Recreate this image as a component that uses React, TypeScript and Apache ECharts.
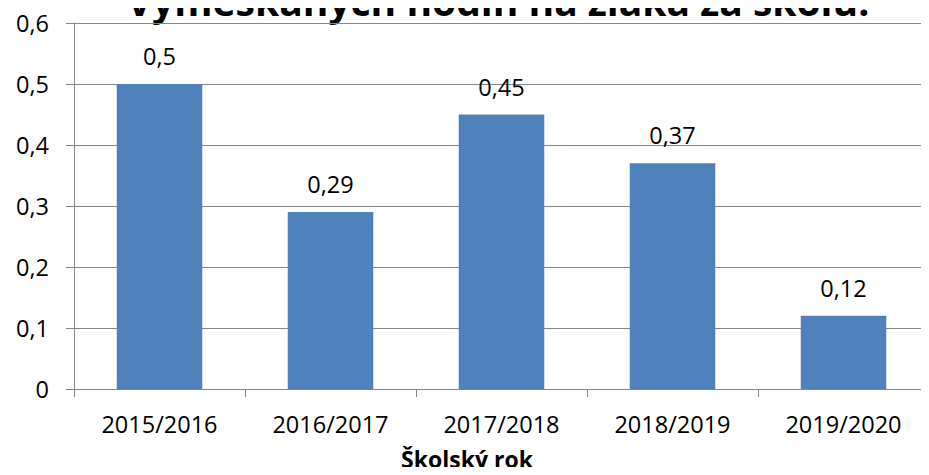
import React, { useEffect, useRef } from "react";
import * as echarts from "echarts";

const categories = ["2015/2016", "2016/2017", "2017/2018", "2018/2019", "2019/2020"];
const values = [0.5, 0.29, 0.45, 0.37, 0.12];
const titleText = "Vymeškaných hodín na žiaka za školu.";
const xAxisName = "Školský rok";

const fmt = (v: number) => String(v).replace(".", ",");

export default function App() {
  const ref = useRef<HTMLDivElement>(null);
  useEffect(() => {
    if (!ref.current) return;
    const chart = echarts.init(ref.current, null, { renderer: "svg" });
    const font = "'Open Sans', sans-serif";
    chart.setOption({
      animation: false,
      backgroundColor: "#ffffff",
      textStyle: { fontFamily: font },
      grid: { left: 74, right: -10, top: 23, bottom: 86, containLabel: false },
      graphic: [
        {
          type: "text",
          x: 498,
          y: 20,
          style: {
            text: titleText,
            font: `bold 39px ${font}`,
            fill: "#000",
            align: "center",
            verticalAlign: "bottom",
          },
        },
        {
          type: "text",
          x: 467,
          y: 459,
          style: {
            text: xAxisName,
            font: `bold 23px ${font}`,
            lineHeight: 23,
            fill: "#000",
            align: "center",
            verticalAlign: "middle",
          },
        },
      ],
      xAxis: {
        type: "category",
        data: categories,
        boundaryGap: true,
        axisLine: { show: true, lineStyle: { color: "#868686", width: 1 } },
        axisTick: { show: true, length: 8, lineStyle: { color: "#868686" } },
        axisLabel: { color: "#000", fontSize: 23.5, fontFamily: font, margin: 23 },
        splitLine: { show: false },
      },
      yAxis: {
        type: "value",
        min: 0,
        max: 0.6,
        interval: 0.1,
        axisLine: { show: true, lineStyle: { color: "#868686", width: 1 } },
        axisTick: { show: true, length: 8, lineStyle: { color: "#868686" } },
        axisLabel: {
          color: "#000",
          fontSize: 23.5,
          fontFamily: font,
          margin: 25,
          formatter: (v: number) => fmt(Math.round(v * 10) / 10),
        },
        splitLine: { show: true, lineStyle: { color: "#868686", width: 1 } },
      },
      series: [
        {
          type: "bar",
          data: values,
          barWidth: "50%",
          itemStyle: { color: "#4F81BD" },
          label: {
            show: true,
            position: "top",
            distance: 16,
            color: "#000",
            fontSize: 23.5,
            fontFamily: font,
            formatter: (p: any) => fmt(p.value),
          },
        },
      ],
    });
    return () => chart.dispose();
  }, []);
  return <div ref={ref} style={{ width: 929, height: 475, margin: -8 }} />;
}
